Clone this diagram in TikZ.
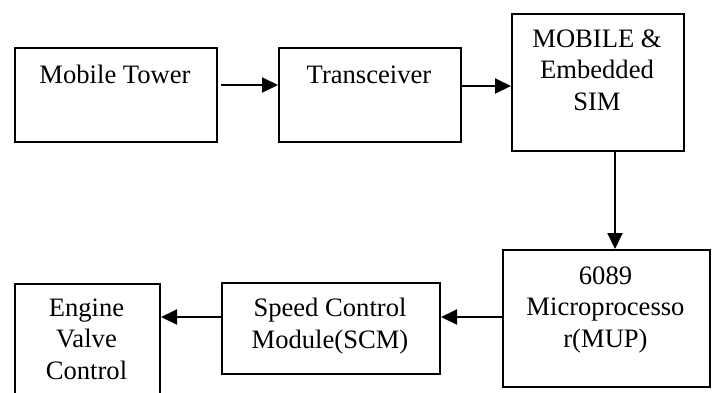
\documentclass[tikz,border=0pt]{standalone}
\usepackage{fontspec}
\setmainfont{Liberation Serif}
\usetikzlibrary{arrows.meta}
\begin{document}
\begin{tikzpicture}[x=1pt,y=-1pt,
  blk/.style={draw, line width=2pt, minimum width=#1, inner sep=0pt, anchor=north west},
  txt/.style={align=center, anchor=base, inner sep=0pt, font=\fontsize{26.6}{31.5}\selectfont},
  conn/.style={line width=2pt, -{Triangle[length=16pt,width=15pt]}}]
\useasboundingbox (0,0) rectangle (713,392);
\clip (0,0) rectangle (713,392);
% boxes
\node[blk=202pt, minimum height=94pt] (b1) at (14,47) {};
\node[blk=182pt, minimum height=94pt] (b2) at (278,47) {};
\node[blk=172pt, minimum height=137pt] (b3) at (511,13) {};
\node[blk=207pt, minimum height=137pt] (b4) at (502,249) {};
\node[blk=218pt, minimum height=91pt] (b5) at (221,282) {};
\node[blk=145pt, minimum height=130pt] (b6) at (14,283) {};
% texts (base = baseline of last line)
\node[txt] (t1) at (115,83) {Mobile Tower};
\node[txt] (t2) at (369,83) {Transceiver};
\node[txt] (t3) at (597,110) {MOBILE \&\\Embedded\\SIM};
\node[txt] (t4) at (605.5,347) {6089\\Microprocesso\\r(MUP)};
\node[txt] (t5) at (330,348) {Speed Control\\Module(SCM)};
\node[txt] (t6) at (86.5,379) {Engine\\Valve\\Control};
% connectors
\coordinate (c1) at (221,85);
\draw[conn] (c1) -- (b2.west |- c1);
\draw[conn] (b2.east |- 0,86) -- (b3.west |- 0,86);
\draw[conn] (b3.south -| 615,0) -- (b4.north -| 615,0);
\draw[conn] (b4.west |- 0,317) -- (b5.east |- 0,317);
\draw[conn] (b5.west |- 0,317) -- (b6.east |- 0,317);
\end{tikzpicture}
\end{document}
